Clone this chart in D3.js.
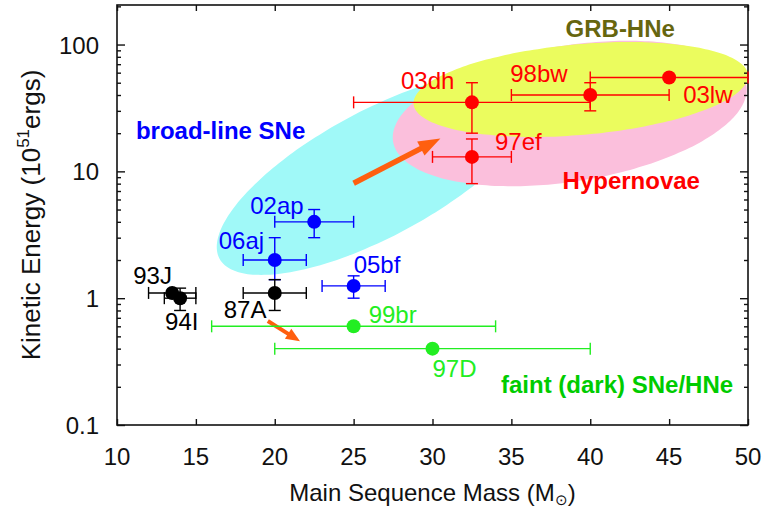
<!DOCTYPE html>
<html>
<head>
<meta charset="utf-8">
<title>Kinetic energy vs main sequence mass</title>
<script src="https://d3js.org/d3.v7.min.js"></script>
<style>
    body { margin: 0; background: white; }
    text { font-family: "Liberation Sans", Arial, sans-serif; }
    .tick-label { font-size: 24px; fill: #111; }
    .axis-title { font-size: 24px; fill: #111; }
    .sn-label { font-size: 24px; }
    .group-label { font-size: 24px; font-weight: bold; }
</style>
</head>
<body>
<script>
// supernovae
var names    = ["93J", "94I", "87A", "06aj", "02ap", "05bf", "99br", "97D", "97ef", "03dh", "98bw", "03lw"];
var groups   = ["normal", "normal", "normal", "broad", "broad", "broad", "faint", "faint", "hyper", "hyper", "hyper", "hyper"];
var mass     = [13.5, 14, 20, 20, 22.5, 25, 25, 30, 32.5, 32.5, 40, 45];
var massLo   = [12, 13, 18, 18, 20, 23, 16, 20, 30, 25, 35, 40];
var massHi   = [15, 15, 22, 22, 25, 27, 34, 40, 35, 40, 45, 50];
var energy   = [1.1, 1.0, 1.1, 2.0, 4.0, 1.25, 0.6, 0.4, 13, 35, 40, 55];
var energyLo = [null, 0.8, 0.8, 1.4, 3.0, 1.0, null, null, 8, 20, 30, null];
var energyHi = [null, 1.2, 1.4, 3.0, 5.0, 1.5, null, null, 18, 50, 50, null];

// shaded regions: centre, one end of the long axis, and width/length ratio
var regionNames  = ["broad-line SNe", "Hypernovae", "GRB-HNe"];
var regionMass   = [26.5, 38.7, 39.4];
var regionEnergy = [9.6, 28.6, 44.2];
var regionTipMass   = [16.5, 27.5, 28.8];
var regionTipEnergy = [2.05, 17.2, 33.9];
var regionAspect = [0.35, 0.38, 0.27];

// group names written on the plot
var groupText   = ["broad-line SNe", "GRB-HNe", "Hypernovae", "faint (dark) SNe/HNe"];
var groupMass   = [11.2, 41.9, 42.6, 41.7];
var groupEnergy = [17.9, 115, 7.2, 0.179];

// orange arrows (tail -> head)
var arrowMass0   = [25.0, 19.56];
var arrowEnergy0 = [8.05, 0.66];
var arrowMass1   = [30.5, 21.6];
var arrowEnergy1 = [18.2, 0.458];

var xTicks = [10, 15, 20, 25, 30, 35, 40, 45, 50];
var yTicks = [0.1, 1, 10, 100];

var width = 768, height = 510;
var margin = {top: 5, right: 20, bottom: 85, left: 117};

var colors = {normal: "#000000", broad: "#0000ff", faint: "#22ee22", hyper: "#ff0000"};
var groupColors = ["#0000ff", "#66660f", "#ff0000", "#00cc00"];
var regionColors = ["#a0f9f8", "#fbbfdc", "#ebfc5e"];

// label offsets from the point, in pixels
var labelDx = [-39, -15, -51, -56, -64, 0, 15, 0, 23, -71, -80, 14];
var labelDy = [-9, 32, 25, -11, -8, -13, -3, 28, -7, -13, -13, 26];

var x = d3.scaleLinear().domain([10, 50]).range([margin.left, width - margin.right]);
var y = d3.scaleLog().domain([0.1, 205]).range([height - margin.bottom, margin.top]);

var svg = d3.select("body").append("svg")
    .attr("width", width).attr("height", height);

svg.append("clipPath").attr("id", "plot")
  .append("rect")
    .attr("x", x(10)).attr("y", y(205))
    .attr("width", x(50) - x(10)).attr("height", y(0.1) - y(205));

// shaded regions
var regions = svg.append("g").attr("clip-path", "url(#plot)");
regionNames.forEach(function(n, i) {
    var cx = x(regionMass[i]), cy = y(regionEnergy[i]);
    var tx = x(regionTipMass[i]), ty = y(regionTipEnergy[i]);
    var a = Math.hypot(cx - tx, cy - ty);
    var b = a * regionAspect[i];
    var ang = Math.atan2(cy - ty, cx - tx);
    var pts = d3.range(120).map(function(k) {
        var t = k / 120 * 2 * Math.PI;
        var ex = a * Math.cos(t), ey = b * Math.sin(t);
        return [cx + ex * Math.cos(ang) - ey * Math.sin(ang),
                cy + ex * Math.sin(ang) + ey * Math.cos(ang)];
    });
    regions.append("path")
        .attr("d", d3.line().curve(d3.curveCardinalClosed)(pts))
        .attr("fill", regionColors[i]);
});

// arrows
arrowMass0.forEach(function(m, i) {
    var x0 = x(m), y0 = y(arrowEnergy0[i]);
    var x1 = x(arrowMass1[i]), y1 = y(arrowEnergy1[i]);
    var ang = Math.atan2(y1 - y0, x1 - x0);
    var len = Math.hypot(x1 - x0, y1 - y0);
    var head = i == 0 ? 22 : 14, hw = i == 0 ? 8 : 6, sw = i == 0 ? 5.5 : 4;
    var g = svg.append("g")
        .attr("transform", "translate(" + x0 + "," + y0 + ") rotate(" + (ang * 180 / Math.PI) + ")");
    g.append("line").attr("x1", 0).attr("y1", 0).attr("x2", len - head + 2).attr("y2", 0)
        .attr("stroke", "#ff5f0f").attr("stroke-width", sw);
    g.append("path")
        .attr("d", "M" + len + ",0L" + (len - head) + "," + (-hw) + "L" + (len - head) + "," + hw + "Z")
        .attr("fill", "#ff5f0f");
});

// frame and ticks
var plot = svg.append("g");
plot.append("rect")
    .attr("x", x(10)).attr("y", y(205))
    .attr("width", x(50) - x(10)).attr("height", y(0.1) - y(205))
    .attr("fill", "none").attr("stroke", "#111").attr("stroke-width", 1.6);

var bottomAxis = d3.axisBottom(x).tickValues(xTicks).tickSize(-6).tickFormat("");
var topAxis = d3.axisTop(x).tickValues(xTicks).tickSize(-6).tickFormat("");
plot.append("g").attr("transform", "translate(0," + y(0.1) + ")").call(bottomAxis);
plot.append("g").attr("transform", "translate(0," + y(205) + ")").call(topAxis);

var minor = [];
[0.1, 1, 10, 100].forEach(function(d) {
    for (var k = 2; k <= 9; k++) if (d * k <= 205) minor.push(d * k);
});
[["left", x(10)], ["right", x(50)]].forEach(function(s) {
    var ax = s[0] == "left" ? d3.axisLeft(y) : d3.axisRight(y);
    plot.append("g").attr("transform", "translate(" + s[1] + ",0)")
        .call(ax.tickValues(yTicks).tickSize(-8).tickFormat(""));
    var ax2 = s[0] == "left" ? d3.axisLeft(y) : d3.axisRight(y);
    plot.append("g").attr("transform", "translate(" + s[1] + ",0)")
        .call(ax2.tickValues(minor).tickSize(-4).tickFormat(""));
});
plot.selectAll(".domain").remove();
plot.selectAll(".tick line").attr("stroke", "#111").attr("stroke-width", 1.4);

// tick labels
svg.selectAll(".xlab").data(xTicks).enter().append("text")
    .attr("class", "tick-label").attr("text-anchor", "middle")
    .attr("x", function(d) { return x(d); }).attr("y", y(0.1) + 40)
    .text(function(d) { return d; });
svg.selectAll(".ylab").data(yTicks).enter().append("text")
    .attr("class", "tick-label").attr("text-anchor", "end")
    .attr("x", x(10) - 18).attr("y", function(d) { return y(d) + 9; })
    .text(function(d) { return d; });

// axis titles
var xt = svg.append("text").attr("class", "axis-title").attr("text-anchor", "middle")
    .attr("x", (x(10) + x(50)) / 2).attr("y", 501);
xt.append("tspan").text("Main Sequence Mass (M");
xt.append("tspan").attr("font-size", 15).attr("dy", 4).text("\u2299");
xt.append("tspan").attr("dy", -4).text(")");

var yt = svg.append("text").attr("class", "axis-title").attr("text-anchor", "middle")
    .style("font-size", "26px")
    .attr("transform", "translate(40," + ((y(0.1) + y(205)) / 2) + ") rotate(-90)");
yt.append("tspan").text("Kinetic Energy (10");
yt.append("tspan").attr("font-size", 17).attr("dy", -11).text("51");
yt.append("tspan").attr("dy", 11).text("ergs)");

// error bars and points
var order = ["faint", "broad", "normal", "hyper"];
var idx = d3.range(names.length).sort(function(a, b) {
    return order.indexOf(groups[a]) - order.indexOf(groups[b]);
});
var cap = 6;
idx.forEach(function(i) {
    var c = colors[groups[i]];
    var px = x(mass[i]), py = y(energy[i]);
    var g = svg.append("g").attr("stroke", c).attr("stroke-width", 1.4);
    g.append("line").attr("x1", x(massLo[i])).attr("x2", x(massHi[i])).attr("y1", py).attr("y2", py);
    [massLo[i], massHi[i]].forEach(function(m) {
        g.append("line").attr("x1", x(m)).attr("x2", x(m)).attr("y1", py - cap).attr("y2", py + cap);
    });
    if (energyLo[i] != null) {
        g.append("line").attr("x1", px).attr("x2", px).attr("y1", y(energyLo[i])).attr("y2", y(energyHi[i]));
        [energyLo[i], energyHi[i]].forEach(function(e) {
            g.append("line").attr("x1", px - cap).attr("x2", px + cap).attr("y1", y(e)).attr("y2", y(e));
        });
    }
    svg.append("circle").attr("cx", px).attr("cy", py).attr("r", 7).attr("fill", c);
    svg.append("text").attr("class", "sn-label")
        .attr("x", px + labelDx[i]).attr("y", py + labelDy[i])
        .attr("fill", c).text(names[i]);
});

// group names
groupText.forEach(function(t, i) {
    svg.append("text").attr("class", "group-label")
        .attr("text-anchor", i == 0 ? "start" : "middle")
        .attr("x", x(groupMass[i])).attr("y", y(groupEnergy[i]))
        .attr("fill", groupColors[i]).text(t);
});
</script>
</body>
</html>
